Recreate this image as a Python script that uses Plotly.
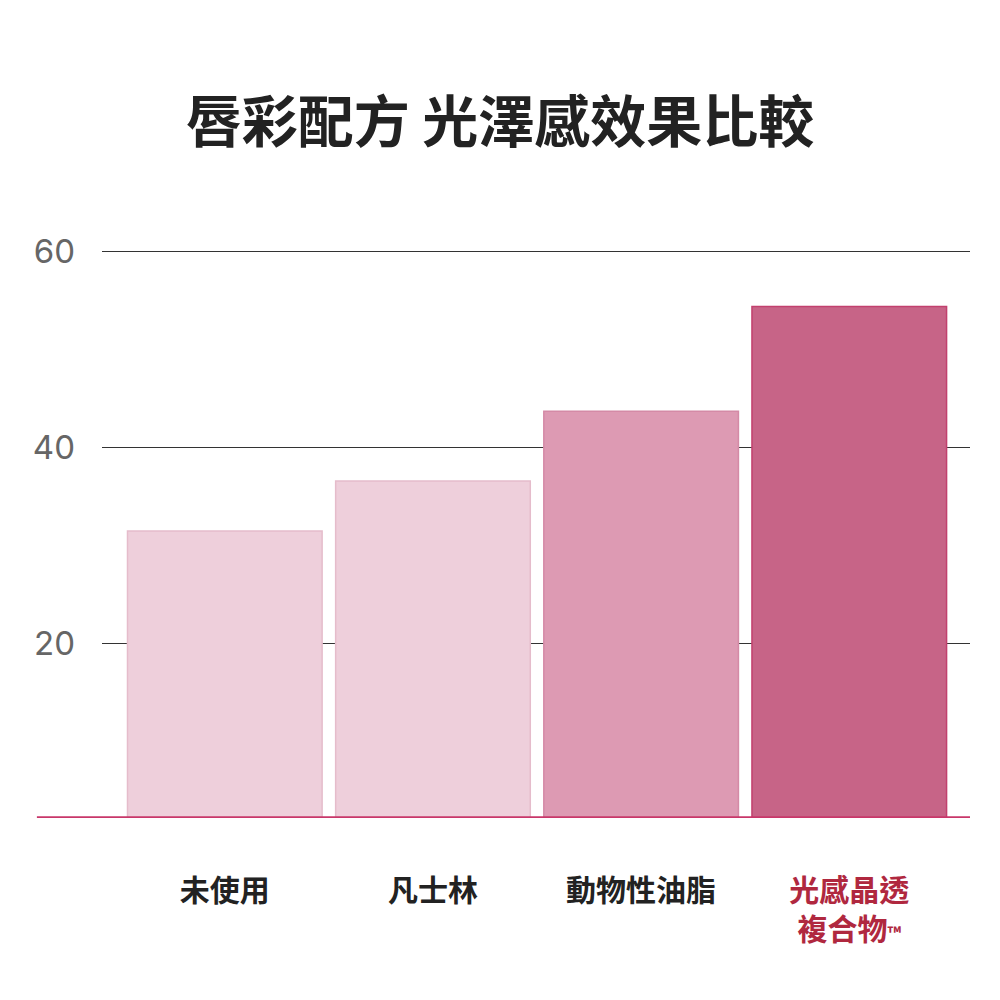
import plotly.graph_objects as go

categories = ["未使用", "凡士林", "動物性油脂", "光感晶透<br>複合物<span style='font-size:18px'>™</span>"]
values = [31.5, 36.6, 43.7, 54.4]
bar_colors = ["#eecfdb", "#eecfdb", "#dd9ab3", "#c76487"]
edge_colors = ["#e5bccb", "#e5bccb", "#d48aa6", "#c2406e"]
label_colors = ["#222222", "#222222", "#222222", "#b0283f"]
y_ticks = [20, 40, 60]

x_idx = list(range(len(categories)))
ticktext = [f"<b><span style='color:{c}'>{t}</span></b>" for t, c in zip(categories, label_colors)]

fig = go.Figure()
fig.add_trace(go.Bar(
    x=x_idx, y=values, base=0,
    marker=dict(color=bar_colors, line=dict(color=edge_colors, width=1.5)),
    width=0.935,
    hoverinfo="skip",
))

fig.add_shape(type="line", xref="paper", yref="y",
              x0=-0.075, x1=1.0, y0=2.2, y1=2.2,
              line=dict(color="#c8376a", width=3.5), layer="above")

fig.update_layout(
    width=1000, height=1000,
    paper_bgcolor="white", plot_bgcolor="white",
    margin=dict(l=102, r=30, t=232, b=182),
    showlegend=False,
    title=dict(text="<b>唇彩配方 光澤感效果比較</b>", x=0.5, xanchor="center",
               y=0.878, yanchor="middle",
               font=dict(family="Noto Sans CJK TC", size=56, color="#222222")),
    xaxis=dict(range=[-0.59, 3.58], tickmode="array", tickvals=x_idx, ticktext=ticktext,
               showgrid=False, zeroline=False, showline=False, ticks="",
               ticklabelstandoff=52,
               tickfont=dict(family="Noto Sans CJK TC", size=30, color="#222222")),
    yaxis=dict(range=[2.2, 62], tickmode="array", tickvals=y_ticks,
               showgrid=True, gridcolor="#333333", gridwidth=1.2,
               zeroline=False, showline=False, ticks="",
               ticklabelstandoff=26,
               tickfont=dict(family="Inter", size=33, color="#666666")),
)

fig.write_html("out.html")
